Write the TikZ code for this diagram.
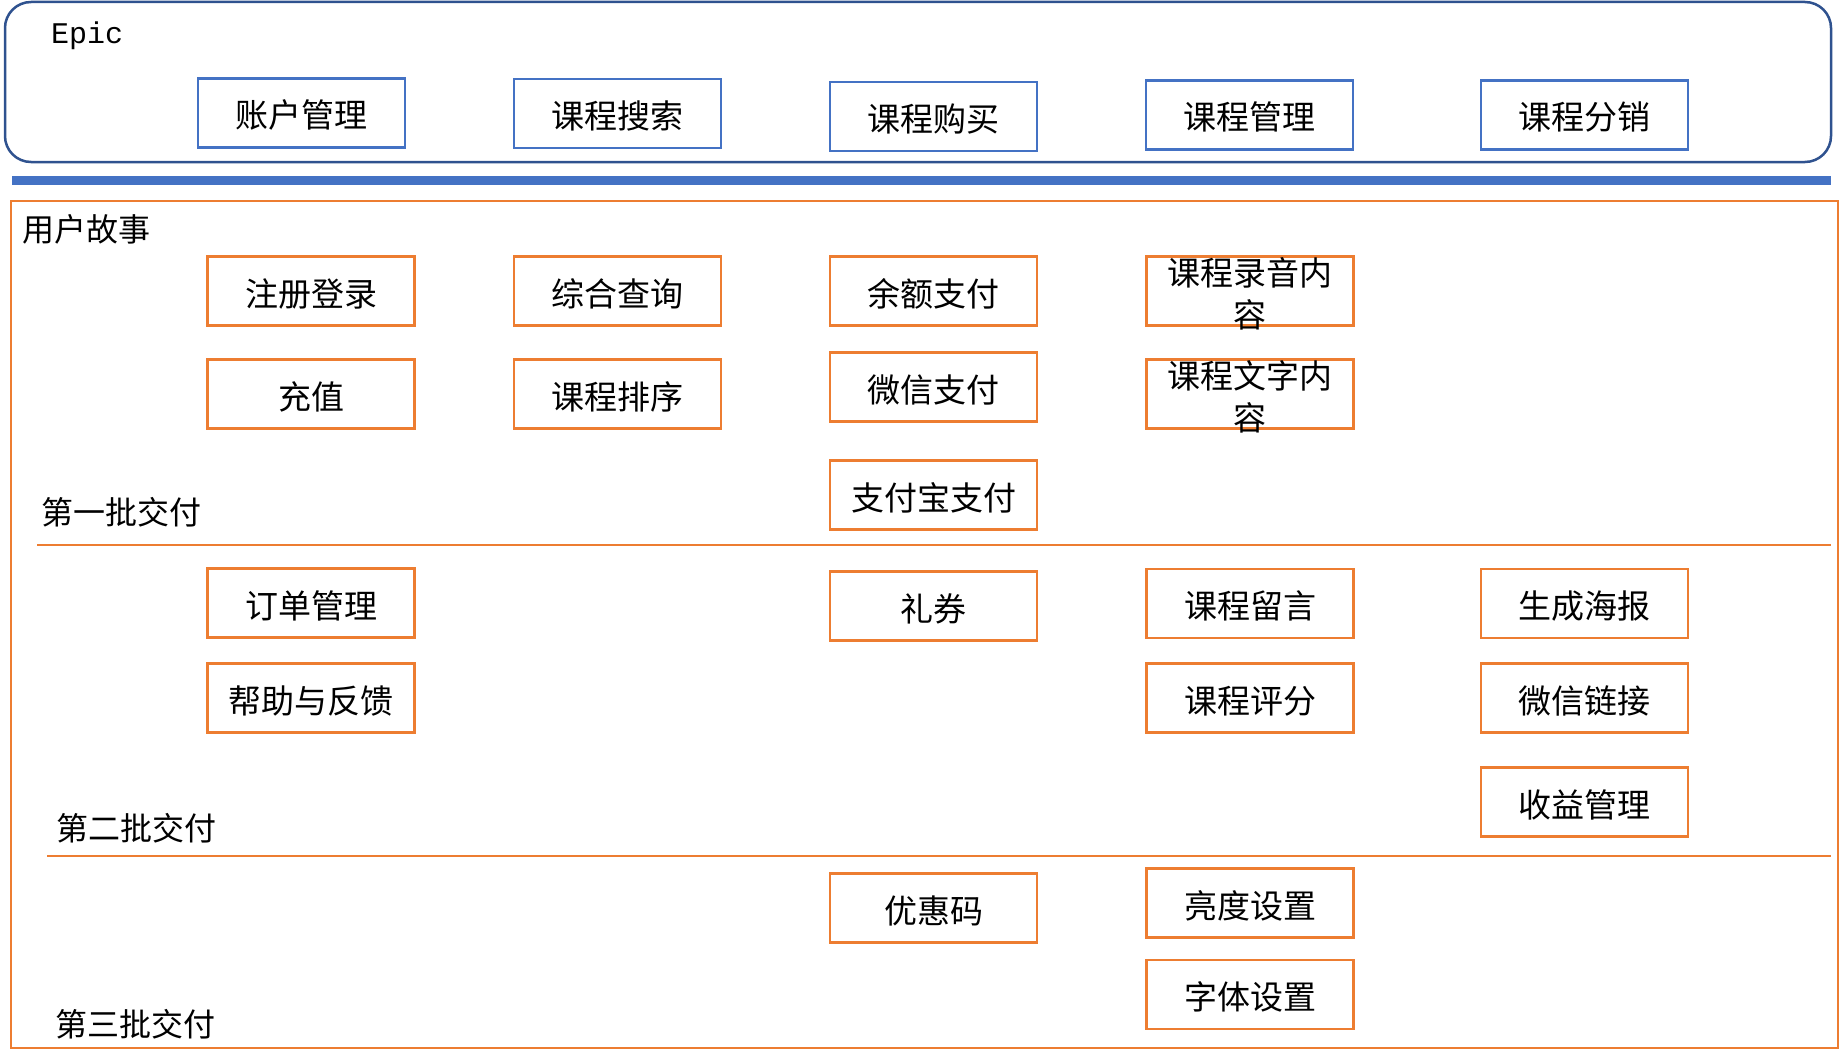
\documentclass[tikz,border=0pt]{standalone}
\usepackage{fontspec}
\setmainfont{Liberation Serif}
\newfontfamily\cjk{Noto Sans CJK SC}
\newfontfamily\epicfont{Liberation Mono}
\usepackage{tikz}
\definecolor{epiccolor}{HTML}{4472C4}
\definecolor{epicframe}{HTML}{2F528F}
\definecolor{storycolor}{HTML}{ED7D31}
\tikzset{card/.style={draw,line width=2.6pt,minimum width=207pt,minimum height=69pt,inner sep=0pt,text height=32pt,text depth=2pt,font=\cjk\fontsize{33}{42}\selectfont},epic/.style={card,draw=epiccolor},story/.style={card,draw=storycolor},wrapped/.style={align=center,inner sep=0pt,font=\cjk\fontsize{33}{42}\selectfont},band label/.style={anchor=west,inner sep=0pt,font=\cjk\fontsize{32}{40}\selectfont},divider/.style={draw=storycolor,line width=2.6pt}}

\begin{document}
\begin{tikzpicture}[x=1pt,y=-1pt]
 \useasboundingbox (0,0) rectangle (1839,1062);
 \draw[epicframe,line width=2.5pt,rounded corners=26pt] (5,2) rectangle (1831,162);
 \fill[epiccolor] (12,176) rectangle (1831,185);
 \draw[storycolor,line width=2.6pt] (11,201) rectangle (1838,1048);
 \node[anchor=west,inner sep=0pt,font=\epicfont\fontsize{30}{36}\selectfont] (epictitle) at (51,36) {Epic};
 \node[band label] (storytitle) at (22,229) {用户故事};
 \node[band label] (batch1) at (41,512) {第一批交付};
 \node[band label] (batch2) at (56,828) {第二批交付};
 \node[band label] (batch3) at (55,1024) {第三批交付};
 \coordinate (cut1a) at (37,545); \coordinate (cut1b) at (1831,545);
 \coordinate (cut2a) at (47,856); \coordinate (cut2b) at (1831,856);
 \draw[divider] (cut1a)--(cut1b);
 \draw[divider] (cut2a)--(cut2b);
 \foreach \n/\x/\y/\t in {acct/301.5/113/账户管理,search/617.5/113.5/课程搜索,buy/933.5/116.5/课程购买,manage/1249.5/115/课程管理,distrib/1584.5/115/课程分销}
   \node[epic] (\n) at (\x,\y) {\t};
 \foreach \n/\x/\y/\t in {reg/311/291/注册登录,query/617.5/291/综合查询,balance/933.5/291/余额支付,
   recharge/311/394/充值,sort/617.5/394/课程排序,wechat/933.5/387/微信支付,alipay/933.5/495/支付宝支付,
   order/311/603/订单管理,help/311/698/帮助与反馈,voucher/933.5/606/礼券,
   comment/1250/603.5/课程留言,rating/1250/698/课程评分,
   poster/1584.5/603.5/生成海报,wxlink/1584.5/698/微信链接,revenue/1584.5/802/收益管理,
   coupon/933.5/908/优惠码,bright/1250/903/亮度设置,fontset/1250/994.5/字体设置}
   \node[story] (\n) at (\x,\y) {\t};
 \node[story] (audio) at (1250,291) {};
 \node[wrapped] (audiotext) at ([yshift=-3pt]audio.center) {课程录音内\\容};
 \node[story] (textual) at (1250,394) {};
 \node[wrapped] (textualtext) at ([yshift=-3pt]textual.center) {课程文字内\\容};
\end{tikzpicture}
\end{document}
